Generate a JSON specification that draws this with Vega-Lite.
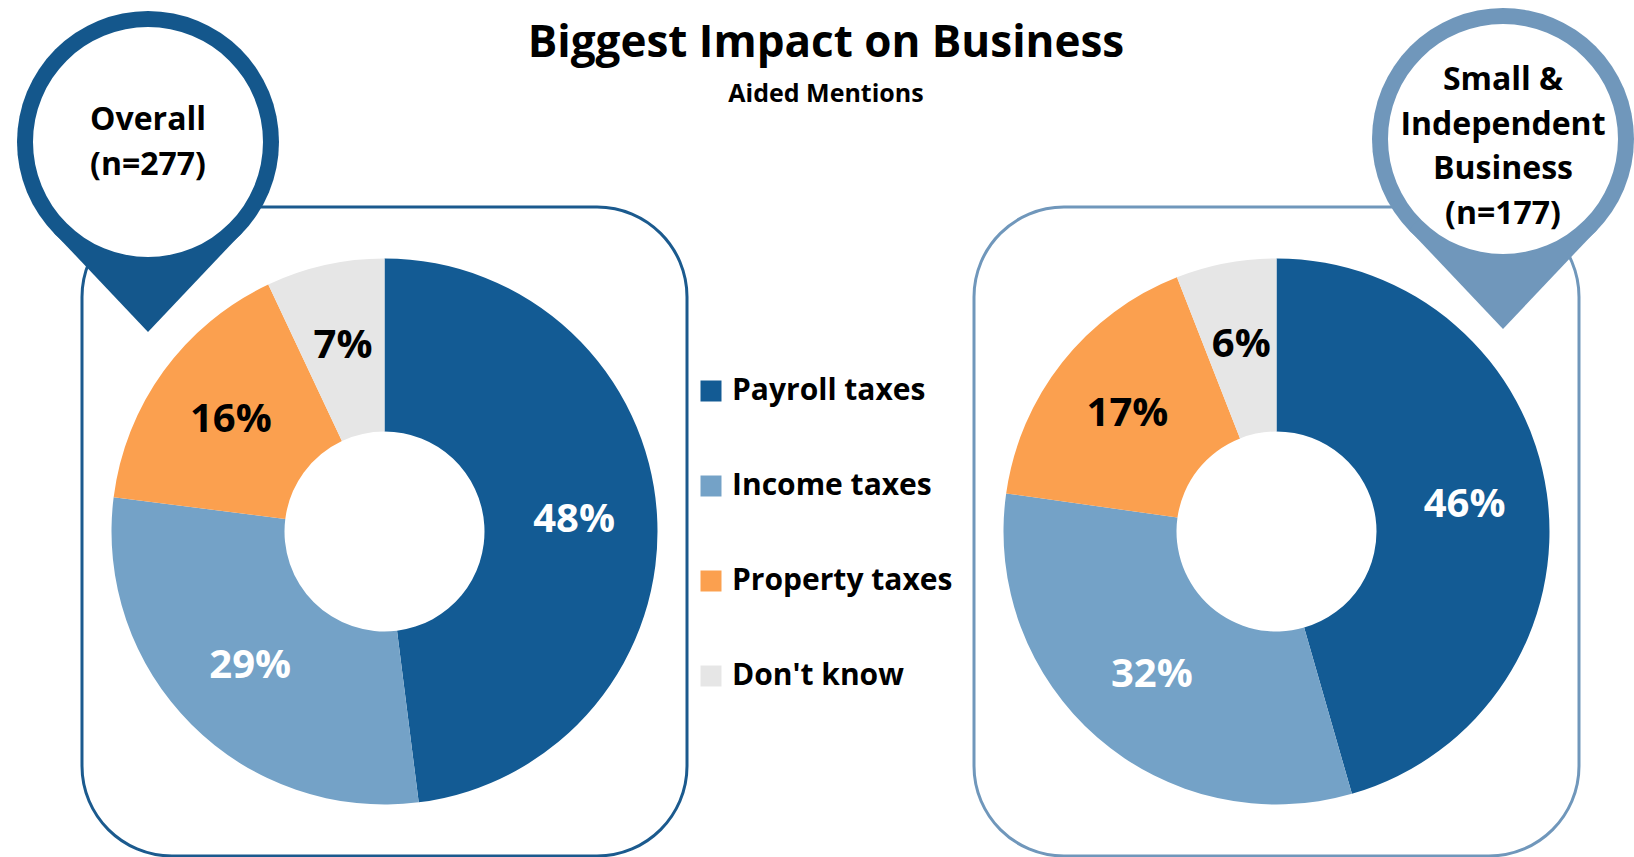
{
  "$schema": "https://vega.github.io/schema/vega-lite/v6.json",
  "background": "white",
  "padding": {"left": 15, "top": 6, "right": 2, "bottom": 1},
  "title": {
    "text": "Biggest Impact on Business",
    "subtitle": "Aided Mentions",
    "anchor": "middle",
    "frame": "group",
    "dx": 744,
    "font": "Open Sans",
    "fontSize": 44,
    "fontWeight": "bold",
    "color": "black",
    "subtitleFont": "Open Sans",
    "subtitleFontSize": 25,
    "subtitleFontWeight": "bold",
    "subtitleColor": "black",
    "subtitlePadding": 16,
    "offset": -100
  },
  "data": {
    "values": [
      {"group": "Overall", "category": "Payroll taxes", "value": 0.48, "rank": 1},
      {"group": "Overall", "category": "Income taxes", "value": 0.29, "rank": 2},
      {"group": "Overall", "category": "Property taxes", "value": 0.16, "rank": 3},
      {"group": "Overall", "category": "Don't know", "value": 0.07, "rank": 4},
      {"group": "Small", "category": "Payroll taxes", "value": 0.46, "rank": 1},
      {"group": "Small", "category": "Income taxes", "value": 0.32, "rank": 2},
      {"group": "Small", "category": "Property taxes", "value": 0.17, "rank": 3},
      {"group": "Small", "category": "Don't know", "value": 0.06, "rank": 4}
    ]
  },
  "spacing": 287,
  "bounds": "flush",
  "hconcat": [
    {
      "width": 605,
      "height": 649,
      "view": {"stroke": "#1B5A8E", "strokeWidth": 3, "cornerRadius": 90, "fill": "white"},
      "layer": [
        {
          "transform": [{"filter": "datum.group === 'Overall'"}],
          "mark": {"type": "arc", "innerRadius": 100, "radius": 273, "strokeWidth": 0},
          "encoding": {
            "theta": {"field": "value", "type": "quantitative", "stack": true},
            "order": {"field": "rank", "type": "quantitative"},
            "color": {
              "field": "category",
              "type": "nominal",
              "scale": {
                "domain": ["Payroll taxes", "Income taxes", "Property taxes", "Don't know"],
                "range": ["#135B94", "#74A2C7", "#FBA04F", "#E6E6E6"]
              },
              "legend": {
                "orient": "none",
                "legendX": 614,
                "legendY": 169,
                "title": null,
                "padding": 0,
                "symbolType": "square",
                "symbolSize": 441,
                "symbolStrokeWidth": 0,
                "labelFont": "Open Sans",
                "labelFontWeight": "bold",
                "labelFontSize": 30,
                "labelColor": "black",
                "labelOffset": 6,
                "labelLimit": 400,
                "rowPadding": 65
              }
            }
          }
        },
        {
          "transform": [{"filter": "datum.group === 'Overall'"}],
          "mark": {"type": "text", "radius": 190, "font": "Open Sans", "fontWeight": "bold", "fontSize": 40},
          "encoding": {
            "theta": {"field": "value", "type": "quantitative", "stack": true},
            "order": {"field": "rank", "type": "quantitative"},
            "text": {"field": "value", "type": "quantitative", "format": ".0%"},
            "color": {"condition": {"test": "datum.rank <= 2", "value": "white"}, "value": "black"}
          }
        },
        {
          "data": {"values": [{"pin": "Overall"}]},
          "mark": {"type": "point", "shape": "circle", "filled": true, "size": 68644, "color": "#14578C", "opacity": 1, "strokeWidth": 0},
          "encoding": {
            "x": {"datum": 66, "type": "quantitative", "scale": {"domain": [0, 605], "nice": false, "zero": false}, "axis": null},
            "y": {"datum": -65, "type": "quantitative", "scale": {"domain": [0, 649], "reverse": true, "nice": false, "zero": false}, "axis": null}
          }
        },
        {
          "data": {"values": [{"pin": "Overall"}]},
          "mark": {"type": "point", "shape": "M0,1.45L0.72,0.69L0,0L-0.72,0.69Z", "filled": true, "size": 68644, "color": "#14578C", "opacity": 1, "strokeWidth": 0},
          "encoding": {
            "x": {"datum": 66, "type": "quantitative"},
            "y": {"datum": -65, "type": "quantitative"}
          }
        },
        {
          "data": {"values": [{"pin": "Overall"}]},
          "mark": {"type": "point", "shape": "circle", "filled": true, "size": 52900, "color": "white", "opacity": 1, "strokeWidth": 0},
          "encoding": {
            "x": {"datum": 66, "type": "quantitative"},
            "y": {"datum": -65, "type": "quantitative"}
          }
        },
        {
          "data": {"values": [{"pin": "Overall"}]},
          "mark": {"type": "text", "font": "Open Sans", "fontWeight": "bold", "fontSize": 32, "lineHeight": 45, "align": "center", "baseline": "middle", "color": "black"},
          "encoding": {
            "x": {"datum": 66, "type": "quantitative"},
            "y": {"datum": -87, "type": "quantitative"},
            "text": {"value": ["Overall", "(n=277)"]}
          }
        }
      ]
    },
    {
      "width": 605,
      "height": 649,
      "view": {"stroke": "#7097BB", "strokeWidth": 3, "cornerRadius": 90, "fill": "white"},
      "layer": [
        {
          "transform": [{"filter": "datum.group === 'Small'"}],
          "mark": {"type": "arc", "innerRadius": 100, "radius": 273, "strokeWidth": 0},
          "encoding": {
            "theta": {"field": "value", "type": "quantitative", "stack": true},
            "order": {"field": "rank", "type": "quantitative"},
            "color": {
              "field": "category",
              "type": "nominal",
              "scale": {
                "domain": ["Payroll taxes", "Income taxes", "Property taxes", "Don't know"],
                "range": ["#135B94", "#74A2C7", "#FBA04F", "#E6E6E6"]
              },
              "legend": null
            }
          }
        },
        {
          "transform": [{"filter": "datum.group === 'Small'"}],
          "mark": {"type": "text", "radius": 190, "font": "Open Sans", "fontWeight": "bold", "fontSize": 40},
          "encoding": {
            "theta": {"field": "value", "type": "quantitative", "stack": true},
            "order": {"field": "rank", "type": "quantitative"},
            "text": {"field": "value", "type": "quantitative", "format": ".0%"},
            "color": {"condition": {"test": "datum.rank <= 2", "value": "white"}, "value": "black"}
          }
        },
        {
          "data": {"values": [{"pin": "Small"}]},
          "mark": {"type": "point", "shape": "circle", "filled": true, "size": 68644, "color": "#7097BB", "opacity": 1, "strokeWidth": 0},
          "encoding": {
            "x": {"datum": 529, "type": "quantitative", "scale": {"domain": [0, 605], "nice": false, "zero": false}, "axis": null},
            "y": {"datum": -68, "type": "quantitative", "scale": {"domain": [0, 649], "reverse": true, "nice": false, "zero": false}, "axis": null}
          }
        },
        {
          "data": {"values": [{"pin": "Small"}]},
          "mark": {"type": "point", "shape": "M0,1.45L0.72,0.69L0,0L-0.72,0.69Z", "filled": true, "size": 68644, "color": "#7097BB", "opacity": 1, "strokeWidth": 0},
          "encoding": {
            "x": {"datum": 529, "type": "quantitative"},
            "y": {"datum": -68, "type": "quantitative"}
          }
        },
        {
          "data": {"values": [{"pin": "Small"}]},
          "mark": {"type": "point", "shape": "circle", "filled": true, "size": 52900, "color": "white", "opacity": 1, "strokeWidth": 0},
          "encoding": {
            "x": {"datum": 529, "type": "quantitative"},
            "y": {"datum": -68, "type": "quantitative"}
          }
        },
        {
          "data": {"values": [{"pin": "Small"}]},
          "mark": {"type": "text", "font": "Open Sans", "fontWeight": "bold", "fontSize": 32, "lineHeight": 44.5, "align": "center", "baseline": "middle", "color": "black"},
          "encoding": {
            "x": {"datum": 529, "type": "quantitative"},
            "y": {"datum": -127, "type": "quantitative"},
            "text": {"value": ["Small &", "Independent", "Business", "(n=177)"]}
          }
        }
      ]
    }
  ],
  "resolve": {"scale": {"color": "independent"}, "legend": {"color": "independent"}},
  "config": {"font": "Open Sans"}
}
